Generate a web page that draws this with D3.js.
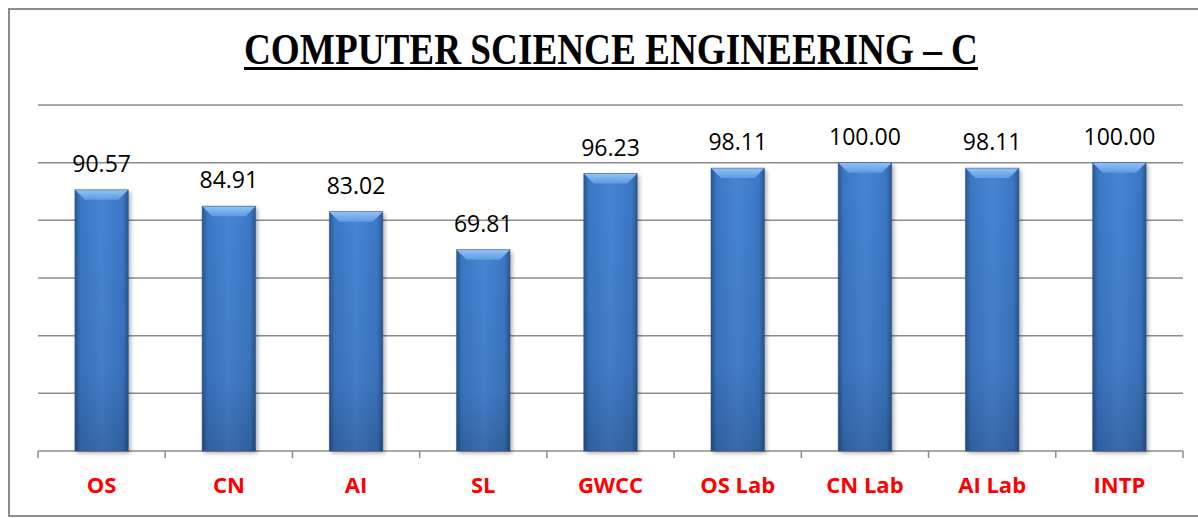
<!DOCTYPE html>
<html>
<head>
  <script src="https://d3js.org/d3.v7.min.js"></script>
  <style>
    body { margin: 0; background: #fff; }
    .grid line { stroke: #8c8c8c; stroke-width: 1.5; }
    .value { font: 23px "Open Sans", sans-serif; fill: #000; }
    .cat { font: bold 22px "Open Sans", sans-serif; fill: #ff0000; }
  </style>
</head>
<body>
  <svg class="chart"></svg>
  <script>
    var categories = ['OS', 'CN', 'AI', 'SL', 'GWCC', 'OS Lab', 'CN Lab', 'AI Lab', 'INTP'];
    var values = [90.57, 84.91, 83.02, 69.81, 96.23, 98.11, 100.00, 98.11, 100.00];
    var gridTicks = [0, 20, 40, 60, 80, 100, 120];
    var title = 'COMPUTER SCIENCE ENGINEERING \u2013 C';

    var W = 1198, H = 518;
    var plotLeft = 38, plotRight = 1183, plotTop = 105, plotBottom = 451;

    var svg = d3.select('.chart').attr('width', W).attr('height', H);

    var defs = svg.append('defs');
    var body = defs.append('linearGradient').attr('id', 'barBody')
      .attr('x1', '0').attr('x2', '1').attr('y1', '0').attr('y2', '0');
    [[0, '#29568f'], [0.1, '#3b77c4'], [0.5, '#4785d4'], [0.9, '#3b77c4'], [1, '#29568f']]
      .forEach(function (s) { body.append('stop').attr('offset', s[0]).attr('stop-color', s[1]); });
    var shade = defs.append('linearGradient').attr('id', 'barShade')
      .attr('x1', '0').attr('x2', '0').attr('y1', '0').attr('y2', '1');
    shade.append('stop').attr('offset', 0).attr('stop-color', '#000').attr('stop-opacity', 0);
    shade.append('stop').attr('offset', 0.7).attr('stop-color', '#000').attr('stop-opacity', 0.06);
    shade.append('stop').attr('offset', 1).attr('stop-color', '#000').attr('stop-opacity', 0.2);
    var bevel = defs.append('linearGradient').attr('id', 'barTop')
      .attr('x1', '0').attr('x2', '0').attr('y1', '0').attr('y2', '1');
    bevel.append('stop').attr('offset', 0).attr('stop-color', '#95c2f5');
    bevel.append('stop').attr('offset', 1).attr('stop-color', '#5e9ae2');
    defs.append('filter').attr('id', 'shadow').attr('x', '-20%').attr('y', '-10%')
      .attr('width', '150%').attr('height', '130%')
      .append('feDropShadow').attr('dx', 2).attr('dy', 2).attr('stdDeviation', 2)
      .attr('flood-color', '#000').attr('flood-opacity', 0.35);

    // outer border
    svg.append('rect').attr('x', 9).attr('y', 9).attr('width', W).attr('height', 507)
      .attr('fill', 'none').attr('stroke', '#8c8c8c').attr('stroke-width', 2);

    // title
    svg.append('text')
      .attr('x', 611).attr('y', 64)
      .attr('text-anchor', 'middle')
      .attr('textLength', 734).attr('lengthAdjust', 'spacingAndGlyphs')
      .style('font', 'bold 44px "Liberation Serif", "Times New Roman", serif')
      .text(title);
    svg.append('rect').attr('x', 244).attr('y', 67).attr('width', 734).attr('height', 3).attr('fill', '#000');

    var x = d3.scaleBand().domain(categories).range([plotLeft, plotRight]).padding(0);
    var y = d3.scaleLinear().domain([0, 120]).range([plotBottom, plotTop]);
    var bw = x.bandwidth() * 0.42;

    // gridlines
    svg.append('g').attr('class', 'grid').selectAll('line')
      .data(gridTicks.filter(function (d) { return d > 0; }))
      .enter().append('line')
      .attr('x1', plotLeft).attr('x2', plotRight)
      .attr('y1', function (d) { return y(d); }).attr('y2', function (d) { return y(d); });

    // x axis
    var xAxis = svg.append('g').attr('transform', 'translate(0,' + plotBottom + ')');
    xAxis.append('line').attr('x1', plotLeft).attr('x2', plotRight)
      .attr('stroke', '#8c8c8c').attr('stroke-width', 1.5);
    var bounds = categories.map(function (c) { return x(c); }).concat([plotRight]);
    xAxis.selectAll('.tk').data(bounds).enter().append('line')
      .attr('x1', function (d) { return d; }).attr('x2', function (d) { return d; })
      .attr('y1', 0).attr('y2', 7)
      .attr('stroke', '#8c8c8c').attr('stroke-width', 1.5);

    var data = categories.map(function (c, i) { return { name: c, value: values[i] }; });

    var bars = svg.append('g').selectAll('.bar').data(data).enter().append('g')
      .attr('class', 'bar')
      .attr('transform', function (d) {
        return 'translate(' + (x(d.name) + (x.bandwidth() - bw) / 2) + ',' + y(d.value) + ')';
      });
    bars.append('rect')
      .attr('width', bw)
      .attr('height', function (d) { return plotBottom - y(d.value); })
      .attr('fill', 'url(#barBody)')
      .attr('filter', 'url(#shadow)');
    bars.append('rect')
      .attr('width', bw)
      .attr('height', function (d) { return plotBottom - y(d.value); })
      .attr('fill', 'url(#barShade)');
    bars.append('path')
      .attr('d', 'M0,0H' + bw + 'L' + (bw - 10) + ',10H10Z')
      .attr('fill', 'url(#barTop)');
    bars.append('rect')
      .attr('width', bw)
      .attr('height', function (d) { return plotBottom - y(d.value); })
      .attr('fill', 'none').attr('stroke', '#2a5288').attr('stroke-width', 0.8).attr('stroke-opacity', 0.6);

    svg.append('g').selectAll('.value').data(data).enter().append('text')
      .attr('class', 'value')
      .attr('x', function (d) { return x(d.name) + x.bandwidth() / 2; })
      .attr('y', function (d) { return y(d.value) - 18; })
      .attr('text-anchor', 'middle')
      .text(function (d) { return d.value.toFixed(2); });

    svg.append('g').selectAll('.cat').data(categories).enter().append('text')
      .attr('class', 'cat')
      .attr('x', function (d) { return x(d) + x.bandwidth() / 2; })
      .attr('y', 493)
      .attr('text-anchor', 'middle')
      .text(function (d) { return d; });
  </script>
</body>
</html>
